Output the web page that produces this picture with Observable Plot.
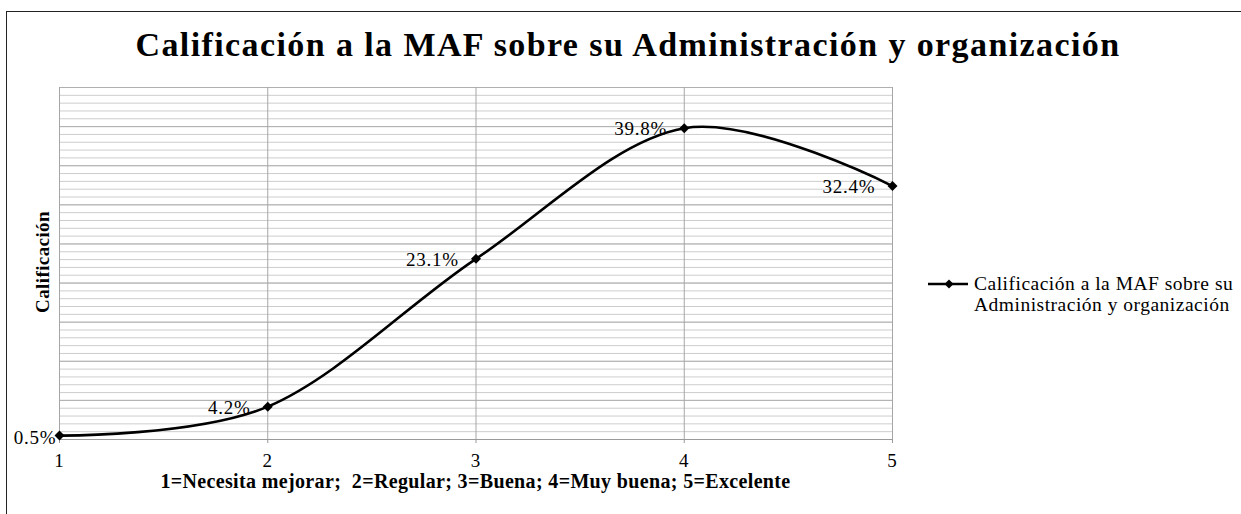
<!DOCTYPE html>
<html>
<head>
<meta charset="utf-8">
<script src="https://cdn.jsdelivr.net/npm/d3@7"></script>
<script src="https://cdn.jsdelivr.net/npm/@observablehq/plot@0.6"></script>
<style>
  html, body { margin: 0; padding: 0; background: #fff; }
  #wrap { position: relative; width: 1241px; height: 514px; overflow: hidden; font-family: "Liberation Serif", "Times New Roman", serif; color: #000; }
  #border { position: absolute; left: 6px; top: 11px; width: 1300px; height: 600px; border-left: 1.5px solid #222; border-top: 1.5px solid #222; }
  #title { position: absolute; left: 0; width: 1256px; top: 25px; line-height: 40px; text-align: center; font-weight: bold; font-size: 34px; letter-spacing: 1.4px; white-space: nowrap; }
  #ytitle { position: absolute; left: 43px; top: 262px; transform: translate(-50%, -50%) rotate(-90deg); font-weight: bold; font-size: 19px; letter-spacing: 0.4px; white-space: nowrap; }
  #xtitle { position: absolute; left: 0; width: 951px; top: 472px; line-height: 18px; text-align: center; font-weight: bold; font-size: 20px; letter-spacing: 0.35px; white-space: pre; }
  #legend { position: absolute; left: 928px; top: 273px; font-size: 19.5px; line-height: 21px; letter-spacing: 0.5px; }
  #legend svg { position: absolute; left: 0; top: 4px; }
  #legend .txt { position: absolute; left: 46px; top: 0; white-space: nowrap; }
  #chart { position: absolute; left: 0; top: 0; }
</style>
</head>
<body>
<div id="wrap">
  <div id="border"></div>
  <div id="chart"></div>
  <div id="title"></div>
  <div id="ytitle"></div>
  <div id="xtitle"></div>
  <div id="legend"></div>
</div>
<script>
const chartTitle = "Calificación a la MAF sobre su Administración y organización";
const seriesNameLines = ["Calificación a la MAF sobre su", "Administración y organización"];
const yTitle = "Calificación";
const xTitle = "1=Necesita mejorar;  2=Regular; 3=Buena; 4=Muy buena; 5=Excelente";
const categories = [1, 2, 3, 4, 5];
const values = [0.5, 4.2, 23.1, 39.8, 32.4];
const valueLabels = ["0.5%", "4.2%", "23.1%", "39.8%", "32.4%"];

const data = categories.map((c, i) => ({x: c, y: values[i], label: valueLabels[i]}));

document.getElementById("title").textContent = chartTitle;
document.getElementById("ytitle").textContent = yTitle;
document.getElementById("xtitle").textContent = xTitle;

const legend = document.getElementById("legend");
legend.innerHTML = `<svg width="42" height="14"><line x1="0" y1="7" x2="40" y2="7" stroke="#000" stroke-width="2.5"/><path d="M21,2.5 L25.5,7 L21,11.5 L16.5,7 Z" fill="#000"/></svg><div class="txt"></div>`;
{
  const t = legend.querySelector(".txt");
  seriesNameLines.forEach(p => { const d = document.createElement("div"); d.textContent = p; t.appendChild(d); });
}

const chart = Plot.plot({
  width: 1241,
  height: 514,
  marginLeft: 59,
  marginRight: 349,
  marginTop: 87,
  marginBottom: 75,
  x: {domain: [1, 5]},
  y: {domain: [0, 45], axis: null},
  style: {fontFamily: "Liberation Serif, serif", fontSize: "19px", color: "#000", background: "transparent", overflow: "visible"},
  marks: [
    Plot.gridY(d3.range(0, 46, 1), {stroke: "#cdcdcd", strokeOpacity: 1, strokeWidth: 1}),
    Plot.gridY(d3.range(0, 46, 5), {stroke: "#b0b0b0", strokeOpacity: 1, strokeWidth: 1}),
    Plot.gridX(categories, {stroke: "#a6a6a6", strokeOpacity: 1}),
    Plot.ruleY([0], {stroke: "#9a9a9a"}),
    Plot.axisX(categories, {tickSize: 4, tickPadding: 10, stroke: "#999", fill: "#000", label: null, fontSize: 19, tickFormat: d => String(d)}),
    Plot.line(data, {x: "x", y: "y", curve: "cardinal", stroke: "#000", strokeWidth: 2.6}),
    Plot.dot(data, {x: "x", y: "y", symbol: "diamond2", fill: "#000", stroke: "none", r: 4.5}),
    Plot.text(data.slice(0, 1), {x: "x", y: "y", text: "label", textAnchor: "end", dx: -3, dy: 2, fontSize: 19, fill: "#000"}),
    Plot.text(data.slice(1), {x: "x", y: "y", text: "label", textAnchor: "end", dx: -17, dy: 1, fontSize: 19, fill: "#000"})
  ]
});
chart.querySelectorAll("text").forEach(t => t.style.letterSpacing = "0.8px");
document.getElementById("chart").appendChild(chart);
</script>
</body>
</html>
